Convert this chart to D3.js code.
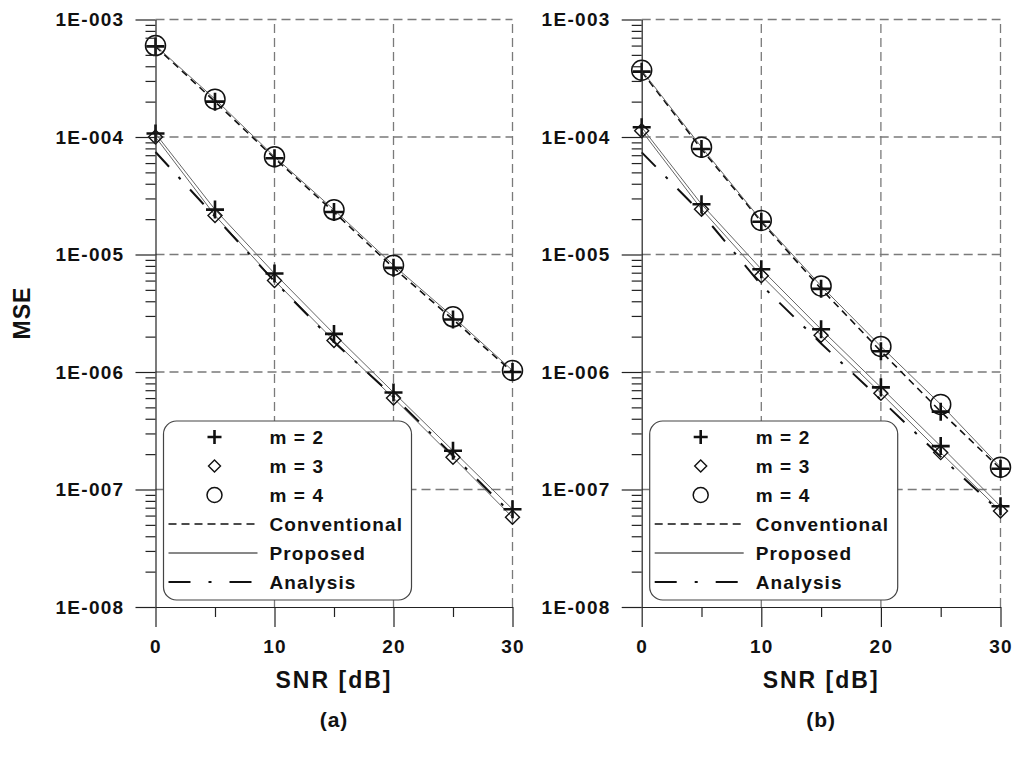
<!DOCTYPE html>
<html>
<head>
<meta charset="utf-8">
<script src="https://cdn.jsdelivr.net/npm/d3@7"></script>
<style>
  body { margin: 0; background: #fff; }
  svg { display: block; font-family: "Liberation Sans", Arial, sans-serif; }
</style>
</head>
<body>
<div id="chart"></div>
<script>
const snr = [0, 5, 10, 15, 20, 25, 30];
const xTicks = [0, 10, 20, 30];
const xMinor = [5, 15, 25];
const yTicks = [1e-3, 1e-4, 1e-5, 1e-6, 1e-7, 1e-8];
const yTickLabels = ["1E-003", "1E-004", "1E-005", "1E-006", "1E-007", "1E-008"];

// (a)
const convM2A = [5.9e-4, 2.0e-4, 6.6e-5, 2.3e-5, 7.7e-6, 2.8e-6, 1.0e-6];
const convM4A = [6.0e-4, 2.1e-4, 6.8e-5, 2.4e-5, 8.1e-6, 2.95e-6, 1.03e-6];
const propM2A = [1.07e-4, 2.41e-5, 6.9e-6, 2.11e-6, 6.7e-7, 2.14e-7, 6.8e-8];
const propM3A = [1.0e-4, 2.15e-5, 6.0e-6, 1.85e-6, 6.0e-7, 1.88e-7, 5.8e-8];
const analysisA = [7.45e-5, 2.1e-5, 5.9e-6, 1.8e-6, 6.2e-7, 1.95e-7, 6.1e-8];

// (b)
const convM2B = [3.6e-4, 7.9e-5, 1.9e-5, 5.1e-6, 1.5e-6, 4.6e-7, 1.5e-7];
const convM4B = [3.7e-4, 8.2e-5, 1.95e-5, 5.4e-6, 1.65e-6, 5.3e-7, 1.55e-7];
const propM2B = [1.21e-4, 2.68e-5, 7.5e-6, 2.31e-6, 7.4e-7, 2.34e-7, 7.2e-8];
const propM3B = [1.13e-4, 2.43e-5, 6.6e-6, 2.05e-6, 6.6e-7, 2.06e-7, 6.55e-8];
const analysisB = [7.4e-5, 2.25e-5, 5.5e-6, 1.75e-6, 5.8e-7, 1.9e-7, 6.4e-8];

const legendLabels = ["m = 2", "m = 3", "m = 4", "Conventional", "Proposed", "Analysis"];

const W = 1016, H = 760;
const svg = d3.select("#chart").append("svg").attr("width", W).attr("height", H);

const DASH = "7,5";
const DASHDOT = "20,14,3,14";

function plus(g, cx, cy, h, sw) {
  g.append("path").attr("d", `M${cx - h},${cy}H${cx + h}M${cx},${cy - h}V${cy + h}`)
    .attr("stroke", "#111").attr("stroke-width", sw).attr("fill", "none");
}
function diamond(g, cx, cy, h) {
  g.append("path").attr("d", `M${cx},${cy - h}L${cx + h},${cy}L${cx},${cy + h}L${cx - h},${cy}Z`)
    .attr("stroke", "#111").attr("stroke-width", 1.4).attr("fill", "none");
}
function circle(g, cx, cy, r) {
  g.append("circle").attr("cx", cx).attr("cy", cy).attr("r", r)
    .attr("stroke", "#111").attr("stroke-width", 1.5).attr("fill", "none");
}

function panel(cfg) {
  const x = d3.scaleLinear().domain([0, 30]).range([cfg.left, cfg.right]);
  const y = d3.scaleLog().domain([1e-8, 1e-3]).range([607, 19.5]);
  const g = svg.append("g");

  // grid
  const grid = g.append("g").attr("stroke", "#7a7a7a").attr("stroke-width", 1.3).attr("stroke-dasharray", "9,5");
  yTicks.slice(0, 5).forEach(v => {
    grid.append("line").attr("x1", x(0)).attr("x2", x(30)).attr("y1", y(v)).attr("y2", y(v));
  });
  xTicks.slice(1).forEach(v => {
    grid.append("line").attr("x1", x(v)).attr("x2", x(v)).attr("y1", y(1e-8)).attr("y2", y(1e-3));
  });

  const line = d3.line().x((d, i) => x(snr[i])).y(d => y(d));

  const series = [
    { data: cfg.conv2, stroke: "#111", width: 1.6, dash: DASH },
    { data: cfg.conv4, stroke: "#666", width: 1, dash: null },
    { data: cfg.prop2, stroke: "#666", width: 1, dash: null },
    { data: cfg.prop3, stroke: "#666", width: 1, dash: null },
    { data: cfg.analysis, stroke: "#111", width: 2, dash: DASHDOT }
  ];
  series.forEach(s => {
    g.append("path").datum(s.data).attr("d", line).attr("fill", "none")
      .attr("stroke", s.stroke).attr("stroke-width", s.width)
      .attr("stroke-dasharray", s.dash);
  });

  const mk = g.append("g");
  cfg.conv4.forEach((v, i) => circle(mk, x(snr[i]), y(v), 10));
  cfg.conv2.forEach((v, i) => plus(mk, x(snr[i]), y(v), 9, 2.6));
  cfg.prop3.forEach((v, i) => diamond(mk, x(snr[i]), y(v), 7));
  cfg.prop2.forEach((v, i) => plus(mk, x(snr[i]), y(v), 9, 2.6));

  // legend
  const lg = g.append("g").attr("transform", `translate(${cfg.left + 8},421)`);
  lg.append("rect").attr("width", 248).attr("height", 179).attr("rx", 13)
    .attr("fill", "#fff").attr("stroke", "#444").attr("stroke-width", 1.2);
  const rowY = i => 16 + i * 29;
  legendLabels.forEach((t, i) => {
    lg.append("text").attr("x", 106).attr("y", rowY(i)).attr("dy", "0.36em")
      .attr("font-size", 19).attr("font-weight", "bold").attr("letter-spacing", 1.1)
      .attr("fill", "#111").text(t);
  });
  plus(lg, 51, rowY(0), 7, 2.6);
  diamond(lg, 51, rowY(1), 6);
  circle(lg, 51, rowY(2), 7.5);
  lg.append("line").attr("x1", 5).attr("x2", 94).attr("y1", rowY(3)).attr("y2", rowY(3))
    .attr("stroke", "#111").attr("stroke-width", 1.6).attr("stroke-dasharray", "8,5");
  lg.append("line").attr("x1", 5).attr("x2", 94).attr("y1", rowY(4)).attr("y2", rowY(4))
    .attr("stroke", "#111").attr("stroke-width", 1);
  lg.append("line").attr("x1", 5).attr("x2", 94).attr("y1", rowY(5)).attr("y2", rowY(5))
    .attr("stroke", "#111").attr("stroke-width", 2).attr("stroke-dasharray", "22,18,3,18");

  // axes
  const yMinor = [];
  for (let e = -8; e < -3; e++) for (let k = 2; k <= 9; k++) yMinor.push(k * Math.pow(10, e));

  g.append("g").attr("transform", `translate(${x(0)},0)`)
    .call(d3.axisLeft(y).tickValues(yTicks).tickSize(20).tickSizeOuter(0).tickPadding(11)
      .tickFormat((d, i) => yTickLabels[i]));
  g.append("g").attr("transform", `translate(${x(0)},0)`)
    .call(d3.axisLeft(y).tickValues(yMinor).tickSize(10).tickSizeOuter(0).tickFormat(""))
    .select(".domain").remove();
  g.append("g").attr("transform", `translate(0,${y(1e-8)})`)
    .call(d3.axisBottom(x).tickValues(xTicks).tickSize(20).tickSizeOuter(0).tickPadding(13));
  g.append("g").attr("transform", `translate(0,${y(1e-8)})`)
    .call(d3.axisBottom(x).tickValues(xMinor).tickSize(10).tickSizeOuter(0).tickFormat(""))
    .select(".domain").remove();

  g.selectAll(".tick line, .domain").attr("stroke", "#222").attr("stroke-width", 1.2);
  g.selectAll(".tick text").attr("font-size", 19).attr("font-weight", "bold")
    .attr("letter-spacing", 1.3).attr("fill", "#111").attr("font-family", "Liberation Sans, Arial, sans-serif");

  g.append("text").attr("x", (cfg.left + cfg.right) / 2).attr("y", 688)
    .attr("text-anchor", "middle").attr("font-size", 23).attr("font-weight", "bold")
    .attr("letter-spacing", 2).attr("fill", "#111").text("SNR [dB]");
  g.append("text").attr("x", (cfg.left + cfg.right) / 2).attr("y", 727)
    .attr("text-anchor", "middle").attr("font-size", 21).attr("font-weight", "bold")
    .attr("letter-spacing", 1).attr("fill", "#111").text(cfg.tag);
}

panel({ left: 155.5, right: 512.5, tag: "(a)",
  conv2: convM2A, conv4: convM4A, prop2: propM2A, prop3: propM3A, analysis: analysisA });
panel({ left: 641.7, right: 1000.5, tag: "(b)",
  conv2: convM2B, conv4: convM4B, prop2: propM2B, prop3: propM3B, analysis: analysisB });

svg.append("text").attr("transform", "translate(30,313) rotate(-90)")
  .attr("text-anchor", "middle").attr("font-size", 23).attr("font-weight", "bold")
  .attr("letter-spacing", 1).attr("fill", "#111").text("MSE");
</script>
</body>
</html>
